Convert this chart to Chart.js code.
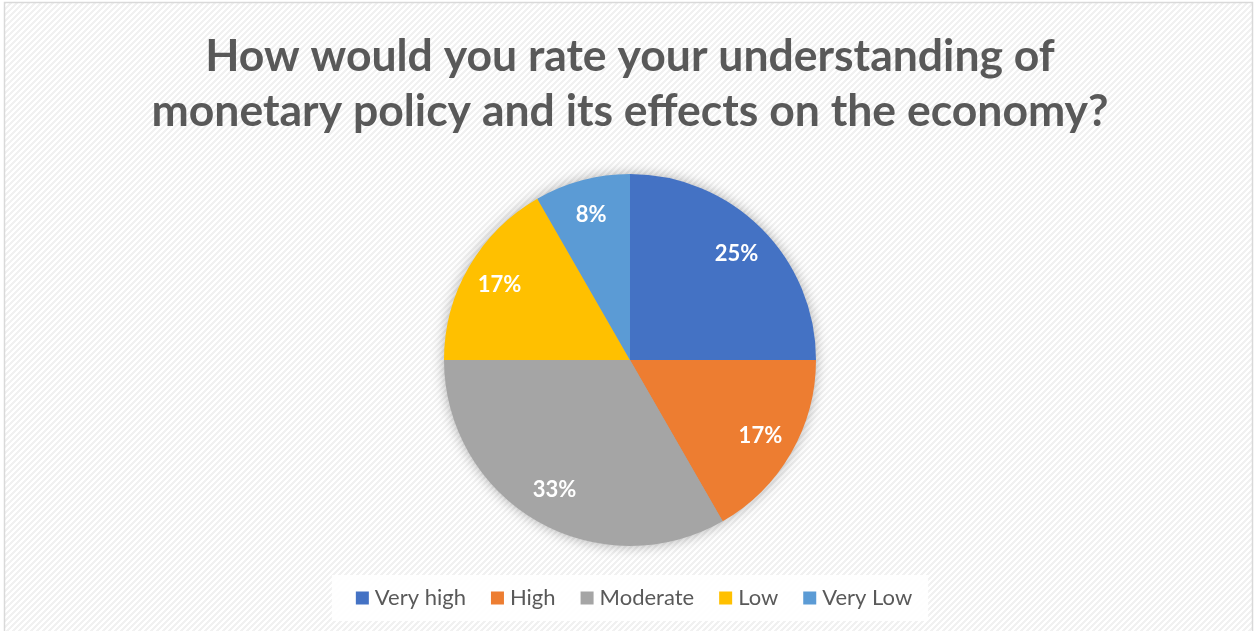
<!DOCTYPE html>
<html>
<head>
<meta charset="utf-8">
<script src="https://cdn.jsdelivr.net/npm/chart.js@4.4.1/dist/chart.umd.min.js"></script>
<style>
  html, body { margin: 0; padding: 0; background: #ffffff; }
  #wrap { width: 1256px; height: 631px; position: relative; }
  canvas { display: block; }
</style>
</head>
<body>
<div id="wrap"><canvas id="chart" width="1256" height="631"></canvas></div>
<script>
// Survey question and answers
const titleLines = [
  'How would you rate your understanding of',
  'monetary policy and its effects on the economy?'
];
const categories = ['Very high', 'High', 'Moderate', 'Low', 'Very Low'];
// Share of respondents, percent
const shares = [25, 16.7, 33.3, 16.7, 8.3];
const sliceColors = ['#4472C4', '#ED7D31', '#A5A5A5', '#FFC000', '#5B9BD5'];

const TEXT_GREY = '#595959';

// Fine diagonal hatch used as the chart surface
function makeHatchTile() {
  const tile = document.createElement('canvas');
  tile.width = 6; tile.height = 6;
  const g = tile.getContext('2d');
  g.fillStyle = '#ffffff';
  g.fillRect(0, 0, 6, 6);
  g.fillStyle = '#f1f1f1';
  for (let y = 0; y < 6; y++) {
    for (let x = 0; x < 6; x++) {
      if (((x + y) % 6) < 3) g.fillRect(x, y, 1, 1);
    }
  }
  return tile;
}

const backdrop = {
  id: 'backdrop',
  beforeDraw(chart) {
    const { ctx, width, height } = chart;
    ctx.save();
    ctx.fillStyle = '#ffffff';
    ctx.fillRect(0, 0, width, height);
    ctx.fillStyle = ctx.createPattern(makeHatchTile(), 'repeat');
    ctx.fillRect(4, 2, 1249, height);
    ctx.strokeStyle = '#d9d9d9';
    ctx.lineWidth = 1.5;
    ctx.strokeRect(4.5, 2.5, 1248, height + 10);
    ctx.restore();
  }
};

// Soft shadow behind the whole pie
const pieShadow = {
  id: 'pieShadow',
  beforeDatasetsDraw(chart) {
    const arc = chart.getDatasetMeta(0).data[0];
    if (!arc) return;
    const { x, y, outerRadius } = arc.getProps(['x', 'y', 'outerRadius'], true);
    const ctx = chart.ctx;
    ctx.save();
    ctx.shadowColor = 'rgba(0,0,0,0.35)';
    ctx.shadowBlur = 14;
    ctx.fillStyle = '#a5a5a5';
    ctx.beginPath();
    ctx.arc(x, y, outerRadius - 1, 0, Math.PI * 2);
    ctx.fill();
    ctx.restore();
  }
};

// Percentage labels inside each slice
const sliceLabels = {
  id: 'sliceLabels',
  afterDatasetsDraw(chart) {
    const ctx = chart.ctx;
    const values = chart.data.datasets[0].data;
    ctx.save();
    ctx.fillStyle = '#ffffff';
    ctx.font = 'bold 22px Lato';
    ctx.textAlign = 'center';
    ctx.textBaseline = 'middle';
    chart.getDatasetMeta(0).data.forEach((arc, i) => {
      const { x, y, startAngle, endAngle, outerRadius } =
        arc.getProps(['x', 'y', 'startAngle', 'endAngle', 'outerRadius'], true);
      const mid = (startAngle + endAngle) / 2;
      const r = outerRadius * 0.81;
      ctx.fillText(Math.round(values[i]) + '%', x + Math.cos(mid) * r, y + Math.sin(mid) * r);
    });
    ctx.restore();
  }
};

// Legend row under the pie, on a white panel
const legendRow = {
  id: 'legendRow',
  afterDraw(chart) {
    const ctx = chart.ctx;
    const labels = chart.data.labels;
    const colors = chart.data.datasets[0].backgroundColor;
    const box = 13, gap = 6, spacing = 25;
    ctx.save();
    ctx.font = '22px Lato';
    const widths = labels.map(t => ctx.measureText(t).width);
    const total = widths.reduce((a, w) => a + box + gap + w, 0) + spacing * (labels.length - 1);
    const cx = (chart.chartArea.left + chart.chartArea.right) / 2 + 4;
    const cy = 598;
    let x = cx - total / 2;
    ctx.fillStyle = 'rgba(255,255,255,0.9)';
    ctx.fillRect(x - 24, cy - 23, total + 40, 46);
    ctx.textBaseline = 'middle';
    ctx.textAlign = 'left';
    labels.forEach((t, i) => {
      ctx.fillStyle = colors[i];
      ctx.fillRect(x, cy - box / 2, box, box);
      ctx.fillStyle = TEXT_GREY;
      ctx.fillText(t, x + box + gap, cy);
      x += box + gap + widths[i] + spacing;
    });
    ctx.restore();
  }
};

new Chart(document.getElementById('chart'), {
  type: 'pie',
  data: {
    labels: categories,
    datasets: [{
      data: shares,
      backgroundColor: sliceColors,
      borderWidth: 0,
      hoverOffset: 0
    }]
  },
  options: {
    responsive: false,
    animation: false,
    events: [],
    layout: { padding: { left: 4, right: 0, top: 0, bottom: 85 } },
    plugins: {
      legend: { display: false },
      tooltip: { enabled: false },
      title: {
        display: true,
        text: titleLines,
        color: TEXT_GREY,
        font: { family: 'Lato', size: 44.5, weight: 'bold', lineHeight: 1.236 },
        padding: { top: 29.3, bottom: 34.7 }
      }
    }
  },
  plugins: [backdrop, pieShadow, sliceLabels, legendRow]
});
</script>
</body>
</html>
